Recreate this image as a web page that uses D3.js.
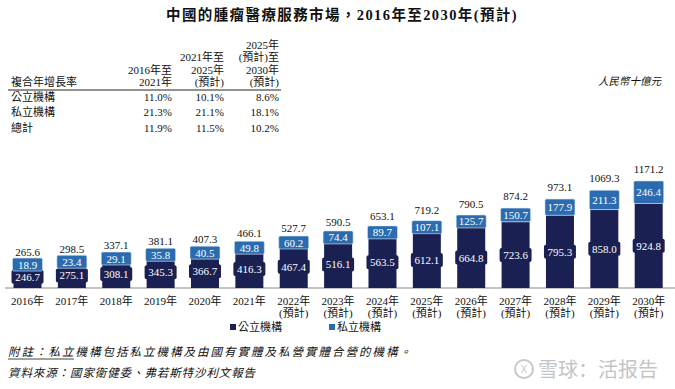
<!DOCTYPE html>
<html>
<head>
<meta charset="utf-8">
<script src="https://d3js.org/d3.v7.min.js"></script>
<style>
  body { margin: 0; background: #fff; }
  svg { display: block; }
  text { font-family: "Liberation Serif", "Noto Sans CJK TC", serif; fill: #111; }
</style>
</head>
<body>
<div id="chart"></div>
<script>
// ---- data ----
var years = ["2016", "2017", "2018", "2019", "2020", "2021", "2022", "2023", "2024", "2025", "2026", "2027", "2028", "2029", "2030"];
var forecast = [false, false, false, false, false, false, true, true, true, true, true, true, true, true, true];
var publicVals = [246.7, 275.1, 308.1, 345.3, 366.7, 416.3, 467.4, 516.1, 563.5, 612.1, 664.8, 723.6, 795.3, 858.0, 924.8];
var privateVals = [18.9, 23.4, 29.1, 35.8, 40.5, 49.8, 60.2, 74.4, 89.7, 107.1, 125.7, 150.7, 177.9, 211.3, 246.4];
var totals = [265.6, 298.5, 337.1, 381.1, 407.3, 466.1, 527.7, 590.5, 653.1, 719.2, 790.5, 874.2, 973.1, 1069.3, 1171.2];

var cagrRows = ["公立機構", "私立機構", "總計"];
var cagrCols = [["2016年至", "2021年"], ["2021年至", "2025年", "(預計)"], ["2025年", "(預計)至", "2030年", "(預計)"]];
var cagrVals = [["11.0%", "10.1%", "8.6%"], ["21.3%", "21.1%", "18.1%"], ["11.9%", "11.5%", "10.2%"]];

var width = 675, height = 389;
var dark = "#1b2052", light = "#2b6cb0";

var svg = d3.select("#chart").append("svg")
  .attr("width", width)
  .attr("height", height);

// title
svg.append("text")
  .attr("x", 342).attr("y", 20)
  .attr("text-anchor", "middle")
  .style("font-size", "14.5px").style("font-weight", "bold")
  .style("letter-spacing", "1.4px")
  .text("中國的腫瘤醫療服務市場，2016年至2030年(預計)");

// ---- CAGR table ----
var colRight = [172, 224, 279];
svg.append("text").attr("x", 11).attr("y", 86).style("font-size", "11px").text("複合年增長率");
cagrCols.forEach(function(lines, i) {
  lines.forEach(function(l, j) {
    svg.append("text")
      .attr("x", colRight[i])
      .attr("y", 86 - (lines.length - 1 - j) * 12.5)
      .attr("text-anchor", "end")
      .style("font-size", "11px")
      .text(l);
  });
});
svg.append("line").attr("x1", 8).attr("x2", 281).attr("y1", 90).attr("y2", 90)
  .attr("stroke", "#222").attr("stroke-width", 1);
cagrRows.forEach(function(r, i) {
  var yy = 101 + i * 15.3;
  svg.append("text").attr("x", 11).attr("y", yy).style("font-size", "11px").text(r);
  cagrVals[i].forEach(function(v, k) {
    svg.append("text").attr("x", colRight[k]).attr("y", yy)
      .attr("text-anchor", "end").style("font-size", "11px").text(v);
  });
});

svg.append("text").attr("x", 661).attr("y", 85)
  .attr("text-anchor", "end")
  .style("font-size", "10.5px").style("font-style", "italic")
  .text("人民幣十億元");

// ---- scales ----
var x = d3.scalePoint().domain(years).range([27.5, 648.7]);
var y = d3.scaleLinear().domain([0, 1200]).range([288, 288 - 1200 * 0.0914]);
var bw = 28;

var data = years.map(function(yr, i) {
  return { year: yr, pub: publicVals[i], pri: privateVals[i], total: totals[i], fc: forecast[i] };
});

// axis line
svg.append("line").attr("x1", 5).attr("x2", 675).attr("y1", y(0)).attr("y2", y(0))
  .attr("stroke", "#888").attr("stroke-width", 1);

var g = svg.selectAll(".bar").data(data).enter().append("g").attr("class", "bar");

// public segment
g.append("rect")
  .attr("x", function(d) { return x(d.year) - bw / 2; })
  .attr("y", function(d) { return y(d.pub); })
  .attr("width", bw)
  .attr("height", function(d) { return y(0) - y(d.pub); })
  .attr("fill", dark);

// public label box
g.append("rect")
  .attr("x", function(d) { return x(d.year) - bw / 2 - 2; })
  .attr("y", function(d) { return (y(0) + y(d.pub)) / 2 - 7; })
  .attr("width", bw + 4).attr("height", 14)
  .attr("rx", 2)
  .attr("fill", dark);
g.append("text")
  .attr("x", function(d) { return x(d.year); })
  .attr("y", function(d) { return (y(0) + y(d.pub)) / 2 + 4; })
  .attr("text-anchor", "middle")
  .style("font-size", "11px").style("fill", "#fff")
  .text(function(d) { return d.pub.toFixed(1); });

// private segment (min height for label)
function priBox(d) {
  var top = y(d.total), bot = y(d.pub), h = bot - top;
  var hh = Math.max(h, 13);
  var c = (top + bot) / 2;
  return { y: Math.min(top, c - hh / 2), h: hh };
}
g.append("rect")
  .attr("x", function(d) { return x(d.year) - bw / 2 - 1; })
  .attr("y", function(d) { return priBox(d).y; })
  .attr("width", bw + 2)
  .attr("height", function(d) { return priBox(d).h; })
  .attr("rx", 1.5)
  .attr("fill", light)
  .attr("stroke", "#d8e4f2").attr("stroke-width", 0.6);
g.append("text")
  .attr("x", function(d) { return x(d.year); })
  .attr("y", function(d) { var b = priBox(d); return b.y + b.h / 2 + 4; })
  .attr("text-anchor", "middle")
  .style("font-size", "11px").style("fill", "#fff")
  .text(function(d) { return d.pri.toFixed(1); });

// total label
g.append("text")
  .attr("x", function(d) { return x(d.year); })
  .attr("y", function(d) { return y(d.total) - 8; })
  .attr("text-anchor", "middle")
  .style("font-size", "11px")
  .text(function(d) { return d.total.toFixed(1); });

// x labels
g.append("text")
  .attr("x", function(d) { return x(d.year); })
  .attr("y", 305)
  .attr("text-anchor", "middle")
  .style("font-size", "11px")
  .text(function(d) { return d.year + "年"; });
g.filter(function(d) { return d.fc; }).append("text")
  .attr("x", function(d) { return x(d.year); })
  .attr("y", 317)
  .attr("text-anchor", "middle")
  .style("font-size", "11px")
  .text("(預計)");

// legend
var legend = [["公立機構", dark, 230], ["私立機構", light, 329]];
legend.forEach(function(l) {
  svg.append("rect").attr("x", l[2]).attr("y", 324).attr("width", 6).attr("height", 6).attr("fill", l[1]);
  svg.append("text").attr("x", l[2] + 8).attr("y", 331).style("font-size", "11px").text(l[0]);
});

// notes
svg.append("text").attr("x", 8).attr("y", 356)
  .style("font-size", "11.5px").style("font-style", "italic")
  .style("letter-spacing", "2px")
  .text("附註：私立機構包括私立機構及由國有實體及私營實體合營的機構。");
svg.append("line").attr("x1", 8).attr("x2", 74).attr("y1", 359).attr("y2", 359)
  .attr("stroke", "#111").attr("stroke-width", 0.8);
svg.append("text").attr("x", 8).attr("y", 377)
  .style("font-size", "11.5px").style("font-style", "italic")
  .style("letter-spacing", "0.9px")
  .text("資料來源：國家衛健委、弗若斯特沙利文報告");

// watermark
svg.append("circle").attr("cx", 524).attr("cy", 369).attr("r", 9)
  .attr("fill", "none").attr("stroke", "#c8c8c8").attr("stroke-width", 2);
svg.append("text").attr("x", 524).attr("y", 373).attr("text-anchor", "middle")
  .style("font-family", "Noto Sans").style("font-size", "11px").style("fill", "#c8c8c8").text("X");
svg.append("text").attr("x", 538).attr("y", 377)
  .style("font-family", "Noto Sans CJK SC").style("font-size", "20px").style("fill", "#c4c4c4")
  .text("雪球：活报告");
</script>
</body>
</html>
